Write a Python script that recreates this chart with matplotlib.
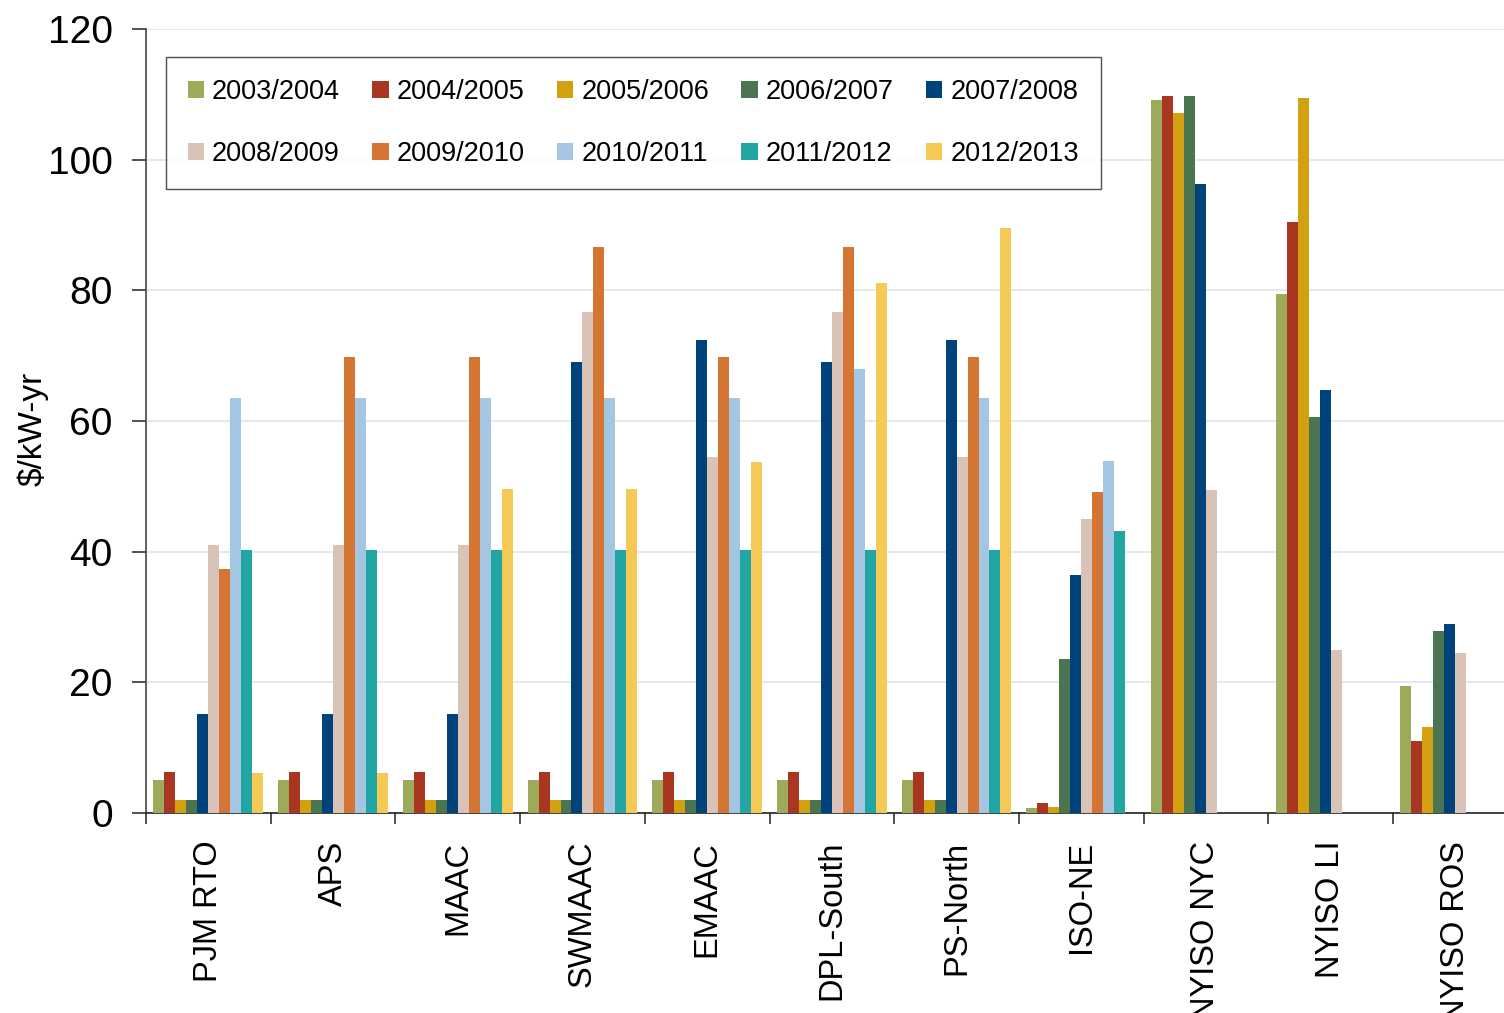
import numpy as np
import matplotlib
matplotlib.use("Agg")
import matplotlib.pyplot as plt

plt.rcParams['font.family'] = ['Liberation Sans', 'DejaVu Sans']

categories = ["PJM RTO", "APS", "MAAC", "SWMAAC", "EMAAC", "DPL-South",
              "PS-North", "ISO-NE", "NYISO NYC", "NYISO LI", "NYISO ROS"]
years = ["2003/2004", "2004/2005", "2005/2006", "2006/2007", "2007/2008",
         "2008/2009", "2009/2010", "2010/2011", "2011/2012", "2012/2013"]
nan = np.nan

v_2003 = [5.0, 5.0, 5.0, 5.0, 5.0, 5.0, 5.0, 0.7, 109.1, 79.5, 19.4]
v_2004 = [6.2, 6.2, 6.2, 6.2, 6.2, 6.2, 6.2, 1.5, 109.8, 90.4, 11.0]
v_2005 = [2.0, 2.0, 2.0, 2.0, 2.0, 2.0, 2.0, 0.9, 107.2, 109.4, 13.1]
v_2006 = [2.0, 2.0, 2.0, 2.0, 2.0, 2.0, 2.0, 23.5, 109.7, 60.6, 27.9]
v_2007 = [15.2, 15.2, 15.2, 69.0, 72.4, 69.0, 72.4, 36.4, 96.2, 64.8, 28.9]
v_2008 = [41.0, 41.0, 41.0, 76.7, 54.5, 76.7, 54.5, 45.0, 49.4, 25.0, 24.5]
v_2009 = [37.3, 69.8, 69.8, 86.6, 69.8, 86.6, 69.8, 49.1, nan, nan, nan]
v_2010 = [63.5, 63.5, 63.5, 63.5, 63.5, 68.0, 63.5, 53.9, nan, nan, nan]
v_2011 = [40.3, 40.3, 40.3, 40.2, 40.2, 40.2, 40.2, 43.1, nan, nan, nan]
v_2012 = [6.1, 6.1, 49.6, 49.6, 53.7, 81.1, 89.6, nan, nan, nan, nan]

series = [v_2003, v_2004, v_2005, v_2006, v_2007, v_2008, v_2009, v_2010, v_2011, v_2012]
colors = ["#9DAA59", "#A93621", "#D3A011", "#4A7550", "#00427A",
          "#D9C3B6", "#D57534", "#A5C6E3", "#22A6A4", "#F4C956"]

fig = plt.figure(figsize=(15.04, 10.13), dpi=100)
ax = fig.add_axes([146/1504, 1-813/1013, 1-146/1504, (813-29)/1013])

x = np.arange(len(categories))
w = 0.088
handles = []
for i in range(len(series)):
    b = ax.bar(x + (i-4.5)*w, series[i], w, color=colors[i], label=years[i], zorder=3)
    handles.append(b)

ax.set_ylim(0, 120)
ax.set_xlim(-0.5, 10.39)
ax.set_yticks(range(0, 121, 20))
ax.yaxis.grid(True, color="#DCE6EA", linewidth=1.2, zorder=0)
ax.set_axisbelow(True)
ax.tick_params(axis='y', labelsize=28, length=10, width=1.2, pad=14, color="#333333")

# ticks sit between the groups, names under the groups
ax.set_xticks(np.arange(-0.5, 10.5, 1), minor=False)
ax.set_xticklabels([])
ax.set_xticks(x, minor=True)
ax.set_xticklabels(categories, minor=True, rotation=90, fontsize=23.5, va='top')
ax.tick_params(axis='x', which='major', length=8, width=1.2, color="#333333")
ax.tick_params(axis='x', which='minor', length=0, pad=20)

for s in ['top', 'right']:
    ax.spines[s].set_visible(False)
ax.spines['left'].set_color("#444444")
ax.spines['left'].set_linewidth(1.2)
ax.spines['bottom'].set_color("#222222")
ax.spines['bottom'].set_linewidth(1.2)

ax.set_ylabel("$/kW-yr", fontsize=24)
ax.yaxis.set_label_coords(-0.072, 0.49)

# legend fills column by column, reorder so rows read across
order = [0, 5, 1, 6, 2, 7, 3, 8, 4, 9]
leg = fig.legend([handles[k] for k in order], [years[k] for k in order],
                 ncol=5, loc='upper left', bbox_to_anchor=(166/1504, 1-57/1013),
                 bbox_transform=fig.transFigure, fontsize=19.5, frameon=True,
                 fancybox=False, edgecolor="#222222", borderaxespad=0,
                 handlelength=0.6, handleheight=0.6, handletextpad=0.3,
                 columnspacing=1.19, labelspacing=1.35, borderpad=0.8)
leg.get_frame().set_linewidth(1.0)

plt.savefig("out.png", dpi=100)
